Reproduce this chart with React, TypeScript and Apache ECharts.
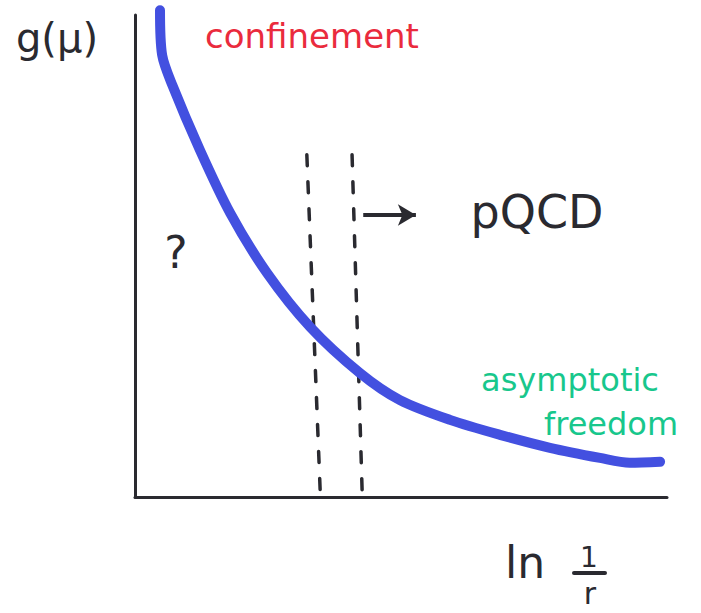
import React, { useEffect, useRef } from "react";
import * as echarts from "echarts";

// Running coupling sketch: g(μ) against ln(1/r)
const couplingCurve: [number, number][] = [
  [0.47, 10.1], [0.51, 9.17], [0.7, 8.55], [1.22, 7.2], [1.79, 5.89],
  [2.48, 4.65], [3.29, 3.53], [4.23, 2.57], [4.98, 2.01], [5.92, 1.6],
  [6.86, 1.29], [7.8, 1.02], [8.74, 0.81], [9.3, 0.71], [9.87, 0.73],
];

// Boundaries of the transition region (top and bottom ends)
const boundaryLeft: [number, number][] = [[3.23, 7.1], [3.48, 0.15]];
const boundaryRight: [number, number][] = [[4.08, 7.1], [4.27, 0.1]];

// Arrow pointing towards the perturbative region
const arrowFrom: [number, number] = [4.29, 5.85];
const arrowTo: [number, number] = [5.28, 5.85];

const ink = "#2a2a30";
const blue = "#4350e0";
const red = "#ea2b3d";
const green = "#18c78c";
const font = "DejaVu Sans";

export default function App() {
  const ref = useRef<HTMLDivElement>(null);

  useEffect(() => {
    document.body.style.margin = "0";
    const chart = echarts.init(ref.current!, null, { renderer: "svg" });
    const axisCommon = {
      type: "value" as const,
      min: 0,
      max: 10,
      axisLine: { show: true, onZero: false, lineStyle: { color: ink, width: 3 } },
      axisTick: { show: false },
      axisLabel: { show: false },
      splitLine: { show: false },
    };
    const dashed = (data: [number, number][]) => ({
      type: "line" as const,
      data,
      showSymbol: false,
      silent: true,
      lineStyle: { color: ink, width: 3.5, type: [11, 16] as number[], cap: "round" as const },
      z: 1,
    });
    chart.setOption({
      animation: false,
      backgroundColor: "#ffffff",
      grid: { left: 135, right: 34, top: 15, bottom: 116 },
      xAxis: axisCommon,
      yAxis: axisCommon,
      series: [
        dashed(boundaryLeft),
        dashed(boundaryRight),
        {
          type: "line",
          data: couplingCurve,
          smooth: 0.3,
          showSymbol: false,
          clip: false,
          lineStyle: { color: blue, width: 10, cap: "round", join: "round" },
          z: 3,
          markLine: {
            silent: true,
            symbol: ["none", "arrow"],
            symbolSize: [16, 18],
            label: { show: false },
            lineStyle: { color: ink, width: 4, type: "solid" },
            data: [[{ coord: arrowFrom }, { coord: arrowTo }]],
          },
        },
      ],
      graphic: [
        {
          type: "text",
          x: 57,
          y: 38,
          style: {
            text: "g(μ)",
            font: `40px "${font}"`,
            fill: ink,
            align: "center",
            verticalAlign: "middle",
          },
        },
        {
          type: "text",
          x: 312,
          y: 36,
          style: {
            text: "confinement",
            font: `34px "${font}"`,
            fill: red,
            align: "center",
            verticalAlign: "middle",
          },
        },
        {
          type: "text",
          x: 176,
          y: 252,
          style: {
            text: "?",
            font: `44px "${font}"`,
            fill: ink,
            align: "center",
            verticalAlign: "middle",
          },
        },
        {
          type: "text",
          x: 537,
          y: 212,
          style: {
            text: "pQCD",
            font: `46px "${font}"`,
            fill: ink,
            align: "center",
            verticalAlign: "middle",
          },
        },
        {
          type: "text",
          x: 570,
          y: 380,
          style: {
            text: "asymptotic",
            font: `32px "${font}"`,
            fill: green,
            align: "center",
            verticalAlign: "middle",
          },
        },
        {
          type: "text",
          x: 611,
          y: 424,
          style: {
            text: "freedom",
            font: `32px "${font}"`,
            fill: green,
            align: "center",
            verticalAlign: "middle",
          },
        },
        {
          type: "text",
          x: 525,
          y: 562,
          style: {
            text: "ln",
            font: `44px "${font}"`,
            fill: ink,
            align: "center",
            verticalAlign: "middle",
          },
        },
        {
          type: "text",
          x: 589,
          y: 557,
          style: {
            text: "1",
            font: `28px "${font}"`,
            fill: ink,
            align: "center",
            verticalAlign: "middle",
          },
        },
        {
          type: "line",
          shape: { x1: 574, y1: 573, x2: 605, y2: 573 },
          style: { stroke: ink, lineWidth: 4, lineCap: "round" },
        },
        {
          type: "text",
          x: 590,
          y: 593,
          style: {
            text: "r",
            font: `30px "${font}"`,
            fill: ink,
            align: "center",
            verticalAlign: "middle",
          },
        },
      ],
    });
    return () => chart.dispose();
  }, []);

  return (
    <div
      ref={ref}
      style={{ position: "absolute", left: 0, top: 0, width: 701, height: 613 }}
    />
  );
}
